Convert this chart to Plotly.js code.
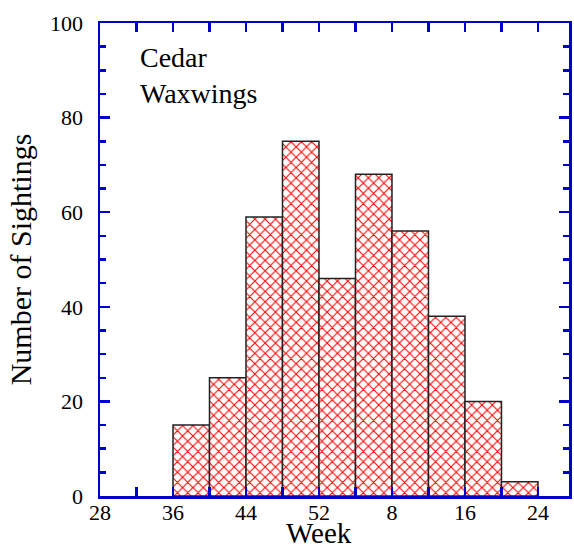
<!DOCTYPE html>
<html><head><meta charset="utf-8">
<script src="https://cdn.plot.ly/plotly-3.0.1.min.js"></script>
<style>html,body{margin:0;padding:0;background:#fff}</style>
</head><body>
<div id="chart" style="width:574px;height:550px"></div>
<script>
// Week at start of each 4-week bin (wraps past week 52)
var weekStart = [36, 40, 44, 48, 52, 4, 8, 12, 16, 20];
var sightings = [15, 25, 59, 75, 46, 68, 56, 38, 20, 3];
var tickWeeks = [28, 36, 44, 52, 8, 16, 24];
var tickLabels = ["28", "36", "44", "52", "8", "16", "24"];

function pos(w) { return w < 28 ? w + 52 : w; }
var xCenters = weekStart.map(function (w) { return pos(w) + 2; });
var tickVals = tickWeeks.map(pos);

var axisBlue = '#0000CC';
var serif = 'Liberation Serif, Times New Roman, serif';

var trace = {
  type: 'bar',
  x: xCenters,
  y: sightings,
  width: 4,
  marker: {
    color: '#ffffff',
    line: {color: '#222222', width: 1.5},
    pattern: {shape: 'x', fgcolor: '#ff0000', bgcolor: '#ffffff', size: 7.3, solidity: 0.27}
  },
  hoverinfo: 'x+y'
};

var layout = {
  width: 574, height: 550,
  margin: {l: 100, r: 5, t: 23, b: 54},
  paper_bgcolor: '#fff', plot_bgcolor: '#fff',
  showlegend: false,
  bargap: 0,
  xaxis: {
    range: [28, 79.4],
    tickmode: 'array', tickvals: tickVals, ticktext: tickLabels,
    ticks: 'inside', ticklen: 9, tickwidth: 2.5, tickcolor: axisBlue,
    minor: {dtick: 4, tick0: 28, ticks: 'inside', ticklen: 9, tickwidth: 2.5, tickcolor: axisBlue},
    showline: true, linecolor: axisBlue, linewidth: 2.5, mirror: 'allticks',
    showgrid: false, zeroline: false,
    tickfont: {family: serif, size: 22, color: '#000'},
    ticklabelstandoff: -5
  },
  yaxis: {
    range: [0, 100],
    tickmode: 'linear', tick0: 0, dtick: 20,
    ticks: 'inside', ticklen: 10, tickwidth: 2.5, tickcolor: axisBlue,
    minor: {dtick: 5, ticks: 'inside', ticklen: 6, tickwidth: 2.5, tickcolor: axisBlue},
    showline: true, linecolor: axisBlue, linewidth: 2.5, mirror: 'allticks',
    showgrid: false, zeroline: false,
    tickfont: {family: serif, size: 22, color: '#000'},
    ticklabelstandoff: 10,
    title: {text: 'Number of Sightings', font: {family: serif, size: 30, color: '#000'}, standoff: 10}
  },
  annotations: [{
    xref: 'paper', yref: 'paper', x: 0.08, y: 0.965, xanchor: 'left', yanchor: 'top',
    text: 'Cedar<br>Waxwings', showarrow: false, align: 'left',
    font: {family: serif, size: 28, color: '#000'}
  }, {
    xref: 'paper', yref: 'paper', x: 0.467, y: -0.114, xanchor: 'center', yanchor: 'bottom',
    text: 'Week', showarrow: false, borderpad: 0,
    font: {family: serif, size: 29, color: '#000'}
  }]
};

Plotly.newPlot('chart', [trace], layout, {displayModeBar: false, staticPlot: true});
</script>
</body></html>
